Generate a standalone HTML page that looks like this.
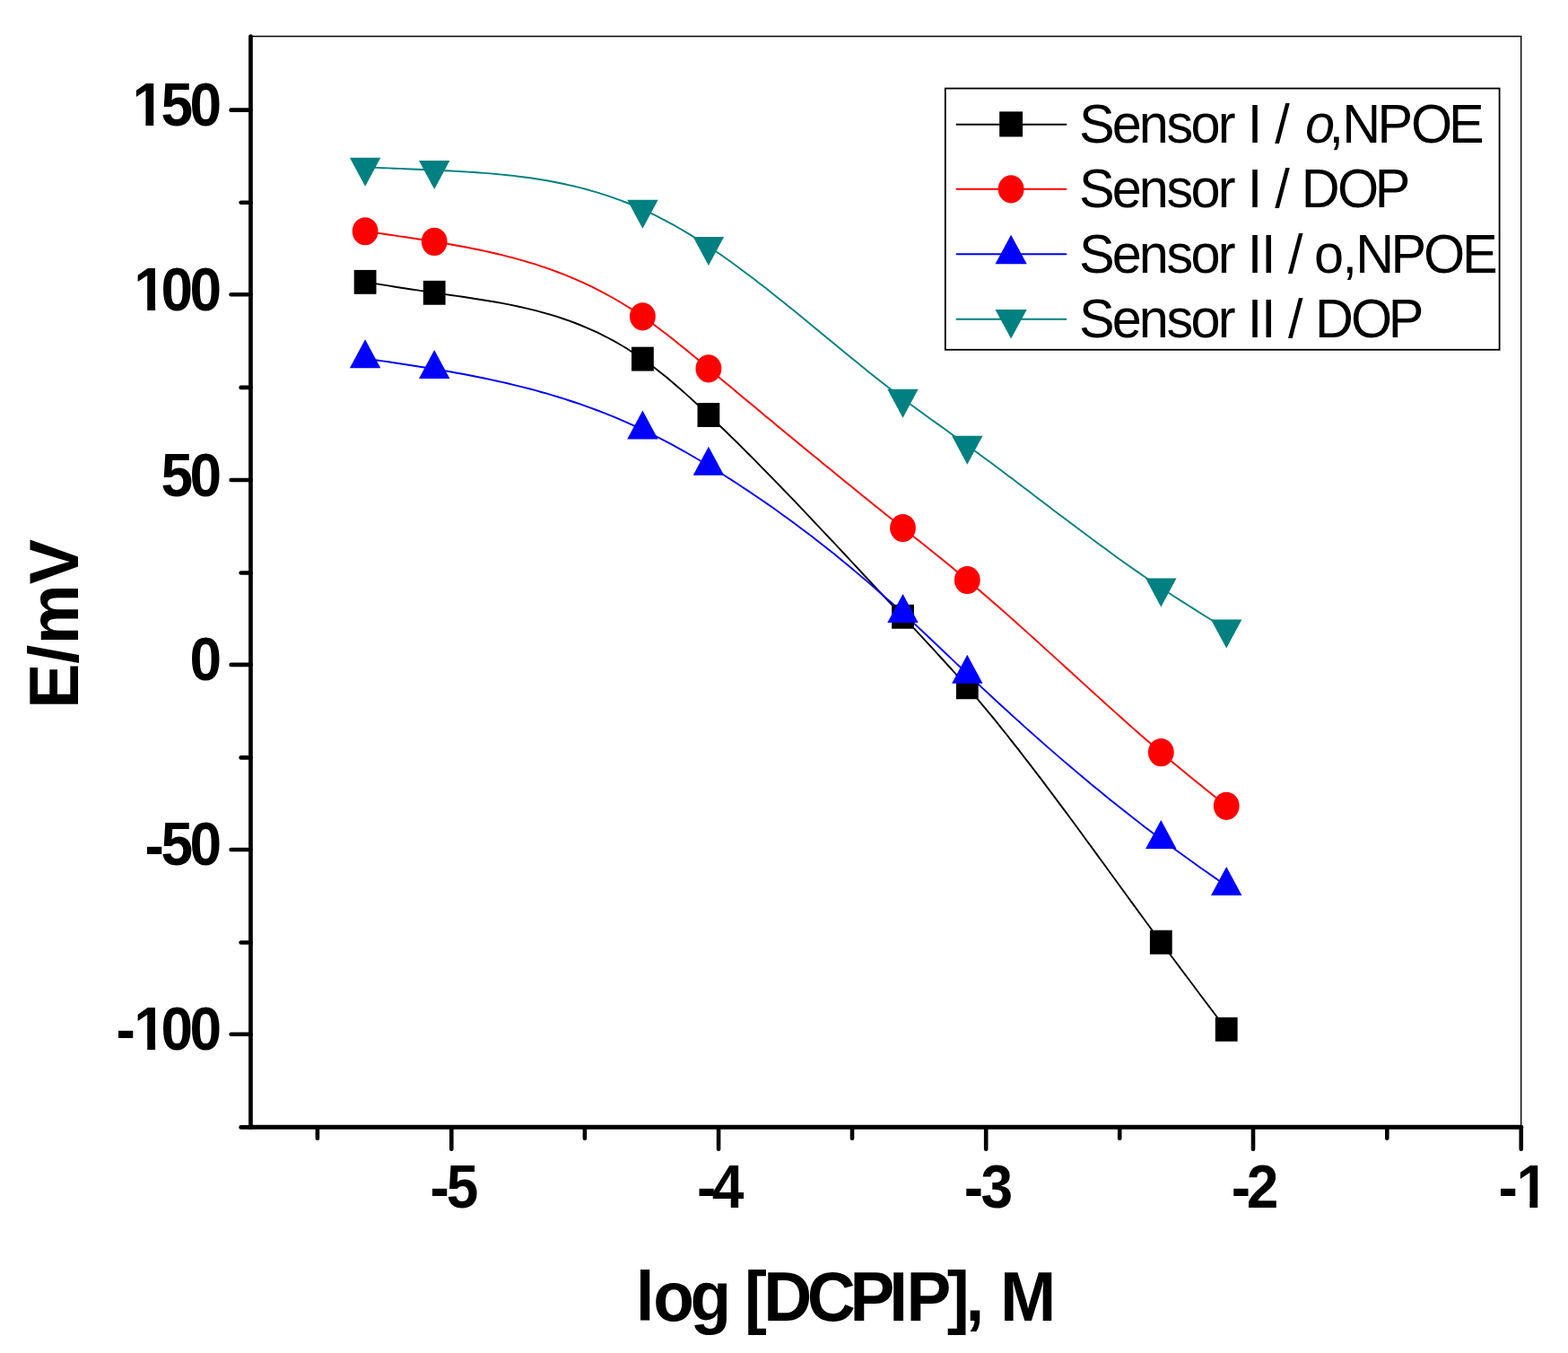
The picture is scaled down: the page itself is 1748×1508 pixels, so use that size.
<!DOCTYPE html>
<html lang="en">
<head>
<meta charset="utf-8">
<title>E/mV vs log [DCPIP], M</title>
<style>
html,body{margin:0;padding:0;background:#fff;}
body{width:1748px;height:1508px;overflow:hidden;}
svg{display:block;}
text{font-family:"Liberation Sans",Arial,Helvetica,sans-serif;fill:#000;white-space:pre;}
.b{font-weight:bold;}
.i{font-style:italic;}
</style>
</head>
<body>
<svg width="1748" height="1508" viewBox="0 0 1748 1508">
<rect x="0" y="0" width="1748" height="1508" fill="#ffffff"/>
<g fill="none" stroke="#000" stroke-width="1.4">
<line x1="279.45" y1="40.55" x2="1696.4" y2="40.55"/>
<line x1="1695.7" y1="40.55" x2="1695.7" y2="1256.3"/>
</g>
<g fill="none" stroke-linejoin="round">
<path d="M407.1,314.4 L413.5,315.4 L420.0,316.4 L426.4,317.4 L432.8,318.4 L439.2,319.5 L445.6,320.5 L452.1,321.5 L458.5,322.5 L464.9,323.4 L471.4,324.4 L477.8,325.4 L484.2,326.3 L490.5,327.2 L496.8,328.1 L503.0,329.0 L509.3,329.9 L515.6,330.8 L521.9,331.7 L528.1,332.7 L534.4,333.7 L540.7,334.7 L547.0,335.7 L553.2,336.8 L559.5,337.9 L565.8,339.1 L572.1,340.4 L578.3,341.7 L584.6,343.1 L590.9,344.6 L597.2,346.2 L603.4,347.8 L609.7,349.6 L616.0,351.4 L622.3,353.4 L628.5,355.5 L634.8,357.7 L641.1,360.0 L647.4,362.5 L653.6,365.1 L659.9,367.8 L666.2,370.7 L672.5,373.8 L678.7,377.0 L685.0,380.4 L691.3,384.0 L697.6,387.7 L703.8,391.7 L710.1,395.8 L716.4,400.1 L723.1,404.9 L729.8,410.0 L736.4,415.2 L743.1,420.6 L749.8,426.2 L756.5,432.0 L763.2,437.9 L769.9,443.9 L776.5,450.0 L783.2,456.2 L789.9,462.5 L796.3,468.6 L802.6,474.7 L809.0,480.8 L815.4,487.1 L821.8,493.3 L828.1,499.6 L834.5,506.0 L840.9,512.4 L847.2,518.8 L853.6,525.3 L860.0,531.8 L866.3,538.4 L872.7,545.0 L879.1,551.6 L885.5,558.2 L891.8,564.9 L898.2,571.6 L904.6,578.3 L910.9,585.1 L917.3,591.8 L923.7,598.6 L930.1,605.4 L936.4,612.2 L942.8,619.0 L949.2,625.8 L955.5,632.7 L961.9,639.5 L968.3,646.3 L974.6,653.2 L981.0,660.0 L987.4,666.8 L993.8,673.7 L1000.1,680.5 L1006.5,687.3 L1013.0,694.3 L1019.6,701.2 L1026.1,708.2 L1032.6,715.2 L1039.1,722.2 L1045.7,729.3 L1052.2,736.5 L1058.7,743.7 L1065.2,750.9 L1071.8,758.3 L1078.3,765.8 L1084.7,773.2 L1091.0,780.7 L1097.4,788.3 L1103.7,795.9 L1110.1,803.7 L1116.4,811.6 L1122.8,819.5 L1129.1,827.6 L1135.5,835.7 L1141.8,843.8 L1148.2,852.1 L1154.5,860.4 L1160.9,868.7 L1167.2,877.1 L1173.6,885.6 L1179.9,894.1 L1186.3,902.6 L1192.7,911.2 L1199.0,919.8 L1205.4,928.5 L1211.7,937.2 L1218.1,945.9 L1224.4,954.6 L1230.8,963.3 L1237.1,972.0 L1243.5,980.7 L1249.8,989.5 L1256.2,998.2 L1262.5,1006.9 L1268.9,1015.6 L1275.2,1024.3 L1281.6,1033.0 L1287.9,1041.6 L1294.3,1050.2 L1301.6,1060.0 L1308.9,1069.8 L1316.2,1079.6 L1323.5,1089.3 L1330.8,1099.0 L1338.0,1108.7 L1345.3,1118.4 L1352.6,1128.0 L1359.9,1137.7 L1367.2,1147.3" stroke="#000000" stroke-width="1.9"/>
<path d="M407.1,257.8 L413.5,258.7 L420.0,259.6 L426.4,260.5 L432.8,261.5 L439.2,262.4 L445.6,263.4 L452.1,264.3 L458.5,265.3 L464.9,266.3 L471.4,267.3 L477.8,268.3 L484.2,269.4 L490.5,270.4 L496.8,271.4 L503.0,272.5 L509.3,273.7 L515.6,274.8 L521.9,276.0 L528.1,277.2 L534.4,278.5 L540.7,279.9 L547.0,281.3 L553.2,282.7 L559.5,284.2 L565.8,285.8 L572.1,287.4 L578.3,289.1 L584.6,290.9 L590.9,292.8 L597.2,294.7 L603.4,296.8 L609.7,298.9 L616.0,301.2 L622.3,303.5 L628.5,305.9 L634.8,308.4 L641.1,311.1 L647.4,313.9 L653.6,316.7 L659.9,319.7 L666.2,322.9 L672.5,326.1 L678.7,329.5 L685.0,333.0 L691.3,336.7 L697.6,340.5 L703.8,344.4 L710.1,348.5 L716.4,352.8 L723.1,357.5 L729.8,362.4 L736.4,367.4 L743.1,372.5 L749.8,377.8 L756.5,383.2 L763.2,388.6 L769.9,394.1 L776.5,399.6 L783.2,405.2 L789.9,410.8 L796.3,416.1 L802.6,421.4 L809.0,426.8 L815.4,432.1 L821.8,437.4 L828.1,442.7 L834.5,448.0 L840.9,453.3 L847.2,458.6 L853.6,463.9 L860.0,469.1 L866.3,474.4 L872.7,479.7 L879.1,484.9 L885.5,490.2 L891.8,495.4 L898.2,500.7 L904.6,505.9 L910.9,511.1 L917.3,516.4 L923.7,521.6 L930.1,526.8 L936.4,532.0 L942.8,537.2 L949.2,542.3 L955.5,547.5 L961.9,552.7 L968.3,557.8 L974.6,562.9 L981.0,568.1 L987.4,573.2 L993.8,578.3 L1000.1,583.4 L1006.5,588.5 L1013.0,593.7 L1019.6,598.9 L1026.1,604.1 L1032.6,609.3 L1039.1,614.5 L1045.7,619.8 L1052.2,625.0 L1058.7,630.3 L1065.2,635.7 L1071.8,641.1 L1078.3,646.5 L1084.7,651.8 L1091.0,657.2 L1097.4,662.7 L1103.7,668.2 L1110.1,673.7 L1116.4,679.3 L1122.8,684.9 L1129.1,690.5 L1135.5,696.2 L1141.8,701.9 L1148.2,707.6 L1154.5,713.3 L1160.9,719.1 L1167.2,724.9 L1173.6,730.6 L1179.9,736.4 L1186.3,742.2 L1192.7,748.0 L1199.0,753.8 L1205.4,759.6 L1211.7,765.4 L1218.1,771.2 L1224.4,776.9 L1230.8,782.7 L1237.1,788.4 L1243.5,794.1 L1249.8,799.8 L1256.2,805.5 L1262.5,811.1 L1268.9,816.7 L1275.2,822.2 L1281.6,827.7 L1287.9,833.2 L1294.3,838.6 L1301.6,844.8 L1308.9,850.9 L1316.2,856.9 L1323.5,862.9 L1330.8,868.9 L1338.0,874.8 L1345.3,880.7 L1352.6,886.6 L1359.9,892.4 L1367.2,898.3" stroke="#ff0000" stroke-width="1.9"/>
<path d="M407.1,399.6 L413.5,400.5 L420.0,401.5 L426.4,402.4 L432.8,403.3 L439.2,404.3 L445.6,405.2 L452.1,406.2 L458.5,407.2 L464.9,408.2 L471.4,409.2 L477.8,410.2 L484.2,411.3 L490.5,412.4 L496.8,413.4 L503.0,414.5 L509.3,415.7 L515.6,416.8 L521.9,418.0 L528.1,419.2 L534.4,420.5 L540.7,421.8 L547.0,423.1 L553.2,424.5 L559.5,425.9 L565.8,427.3 L572.1,428.8 L578.3,430.3 L584.6,431.9 L590.9,433.5 L597.2,435.2 L603.4,437.0 L609.7,438.7 L616.0,440.6 L622.3,442.5 L628.5,444.4 L634.8,446.5 L641.1,448.5 L647.4,450.7 L653.6,452.9 L659.9,455.2 L666.2,457.5 L672.5,459.9 L678.7,462.4 L685.0,464.9 L691.3,467.6 L697.6,470.3 L703.8,473.1 L710.1,475.9 L716.4,478.9 L723.1,482.1 L729.8,485.5 L736.4,488.9 L743.1,492.4 L749.8,495.9 L756.5,499.6 L763.2,503.3 L769.9,507.2 L776.5,511.0 L783.2,515.0 L789.9,519.0 L796.3,522.9 L802.6,526.8 L809.0,530.8 L815.4,534.9 L821.8,539.0 L828.1,543.2 L834.5,547.4 L840.9,551.7 L847.2,556.0 L853.6,560.4 L860.0,564.8 L866.3,569.3 L872.7,573.9 L879.1,578.5 L885.5,583.2 L891.8,588.0 L898.2,592.8 L904.6,597.6 L910.9,602.5 L917.3,607.5 L923.7,612.5 L930.1,617.6 L936.4,622.8 L942.8,628.0 L949.2,633.2 L955.5,638.6 L961.9,643.9 L968.3,649.4 L974.6,654.9 L981.0,660.5 L987.4,666.1 L993.8,671.8 L1000.1,677.5 L1006.5,683.3 L1013.0,689.3 L1019.6,695.4 L1026.1,701.5 L1032.6,707.6 L1039.1,713.8 L1045.7,720.0 L1052.2,726.2 L1058.7,732.4 L1065.2,738.6 L1071.8,744.8 L1078.3,751.0 L1084.7,757.0 L1091.0,762.9 L1097.4,768.9 L1103.7,774.8 L1110.1,780.7 L1116.4,786.5 L1122.8,792.3 L1129.1,798.1 L1135.5,803.8 L1141.8,809.6 L1148.2,815.2 L1154.5,820.9 L1160.9,826.5 L1167.2,832.1 L1173.6,837.6 L1179.9,843.1 L1186.3,848.6 L1192.7,854.0 L1199.0,859.4 L1205.4,864.8 L1211.7,870.1 L1218.1,875.4 L1224.4,880.6 L1230.8,885.8 L1237.1,891.0 L1243.5,896.1 L1249.8,901.1 L1256.2,906.1 L1262.5,911.1 L1268.9,916.0 L1275.2,920.9 L1281.6,925.8 L1287.9,930.6 L1294.3,935.3 L1301.6,940.7 L1308.9,946.0 L1316.2,951.3 L1323.5,956.5 L1330.8,961.7 L1338.0,966.9 L1345.3,972.0 L1352.6,977.1 L1359.9,982.2 L1367.2,987.3" stroke="#0000ff" stroke-width="1.9"/>
<path d="M407.1,186.4 L413.5,186.7 L420.0,186.9 L426.4,187.2 L432.8,187.4 L439.2,187.7 L445.6,187.9 L452.1,188.2 L458.5,188.5 L464.9,188.7 L471.4,189.0 L477.8,189.3 L484.2,189.6 L490.5,189.9 L496.8,190.2 L503.0,190.5 L509.3,190.9 L515.6,191.2 L521.9,191.6 L528.1,192.0 L534.4,192.5 L540.7,192.9 L547.0,193.4 L553.2,194.0 L559.5,194.6 L565.8,195.2 L572.1,195.9 L578.3,196.7 L584.6,197.5 L590.9,198.3 L597.2,199.3 L603.4,200.3 L609.7,201.3 L616.0,202.5 L622.3,203.7 L628.5,205.0 L634.8,206.4 L641.1,207.8 L647.4,209.4 L653.6,211.0 L659.9,212.8 L666.2,214.6 L672.5,216.6 L678.7,218.6 L685.0,220.8 L691.3,223.1 L697.6,225.5 L703.8,228.0 L710.1,230.6 L716.4,233.4 L723.1,236.5 L729.8,239.7 L736.4,243.1 L743.1,246.6 L749.8,250.2 L756.5,254.0 L763.2,257.9 L769.9,261.9 L776.5,266.1 L783.2,270.3 L789.9,274.7 L796.3,279.0 L802.6,283.3 L809.0,287.8 L815.4,292.3 L821.8,297.0 L828.1,301.7 L834.5,306.4 L840.9,311.3 L847.2,316.2 L853.6,321.1 L860.0,326.2 L866.3,331.2 L872.7,336.3 L879.1,341.4 L885.5,346.6 L891.8,351.8 L898.2,357.0 L904.6,362.2 L910.9,367.5 L917.3,372.7 L923.7,378.0 L930.1,383.3 L936.4,388.5 L942.8,393.7 L949.2,398.9 L955.5,404.1 L961.9,409.3 L968.3,414.4 L974.6,419.5 L981.0,424.6 L987.4,429.6 L993.8,434.6 L1000.1,439.5 L1006.5,444.3 L1013.0,449.2 L1019.6,454.0 L1026.1,458.8 L1032.6,463.6 L1039.1,468.3 L1045.7,472.9 L1052.2,477.6 L1058.7,482.3 L1065.2,487.0 L1071.8,491.7 L1078.3,496.4 L1084.7,501.0 L1091.0,505.7 L1097.4,510.4 L1103.7,515.1 L1110.1,519.8 L1116.4,524.6 L1122.8,529.4 L1129.1,534.1 L1135.5,538.9 L1141.8,543.8 L1148.2,548.6 L1154.5,553.4 L1160.9,558.2 L1167.2,563.0 L1173.6,567.9 L1179.9,572.7 L1186.3,577.5 L1192.7,582.3 L1199.0,587.0 L1205.4,591.8 L1211.7,596.6 L1218.1,601.3 L1224.4,606.0 L1230.8,610.6 L1237.1,615.3 L1243.5,619.9 L1249.8,624.4 L1256.2,629.0 L1262.5,633.5 L1268.9,637.9 L1275.2,642.3 L1281.6,646.7 L1287.9,651.0 L1294.3,655.2 L1301.6,660.0 L1308.9,664.7 L1316.2,669.4 L1323.5,674.0 L1330.8,678.6 L1338.0,683.2 L1345.3,687.7 L1352.6,692.2 L1359.9,696.6 L1367.2,701.1" stroke="#008080" stroke-width="1.9"/>
</g>
<g>
<rect x="394.70" y="300.90" width="24.80" height="26.90" fill="#000000"/>
<rect x="471.80" y="312.85" width="24.80" height="26.90" fill="#000000"/>
<rect x="704.00" y="386.65" width="24.80" height="26.90" fill="#000000"/>
<rect x="777.50" y="449.05" width="24.80" height="26.90" fill="#000000"/>
<rect x="994.10" y="673.85" width="24.80" height="26.90" fill="#000000"/>
<rect x="1065.90" y="752.35" width="24.80" height="26.90" fill="#000000"/>
<rect x="1281.90" y="1036.75" width="24.80" height="26.90" fill="#000000"/>
<rect x="1354.80" y="1133.85" width="24.80" height="26.90" fill="#000000"/>
</g>
<g>
<ellipse cx="407.10" cy="257.75" rx="14.4" ry="15.6" fill="#ff0000"/>
<ellipse cx="484.20" cy="269.35" rx="14.4" ry="15.6" fill="#ff0000"/>
<ellipse cx="716.40" cy="352.80" rx="14.4" ry="15.6" fill="#ff0000"/>
<ellipse cx="789.90" cy="410.80" rx="14.4" ry="15.6" fill="#ff0000"/>
<ellipse cx="1006.50" cy="588.50" rx="14.4" ry="15.6" fill="#ff0000"/>
<ellipse cx="1078.30" cy="646.50" rx="14.4" ry="15.6" fill="#ff0000"/>
<ellipse cx="1294.30" cy="838.60" rx="14.4" ry="15.6" fill="#ff0000"/>
<ellipse cx="1367.20" cy="898.30" rx="14.4" ry="15.6" fill="#ff0000"/>
</g>
<g>
<polygon points="389.90,410.27 424.30,410.27 407.10,378.27" fill="#0000ff"/>
<polygon points="467.00,421.97 501.40,421.97 484.20,389.97" fill="#0000ff"/>
<polygon points="699.20,489.57 733.60,489.57 716.40,457.57" fill="#0000ff"/>
<polygon points="772.70,529.67 807.10,529.67 789.90,497.67" fill="#0000ff"/>
<polygon points="989.30,693.97 1023.70,693.97 1006.50,661.97" fill="#0000ff"/>
<polygon points="1061.10,761.67 1095.50,761.67 1078.30,729.67" fill="#0000ff"/>
<polygon points="1277.10,945.97 1311.50,945.97 1294.30,913.97" fill="#0000ff"/>
<polygon points="1350.00,997.97 1384.40,997.97 1367.20,965.97" fill="#0000ff"/>
</g>
<g>
<polygon points="389.90,175.73 424.30,175.73 407.10,207.73" fill="#008080"/>
<polygon points="467.00,178.93 501.40,178.93 484.20,210.93" fill="#008080"/>
<polygon points="699.20,222.73 733.60,222.73 716.40,254.73" fill="#008080"/>
<polygon points="772.70,264.03 807.10,264.03 789.90,296.03" fill="#008080"/>
<polygon points="989.30,433.63 1023.70,433.63 1006.50,465.63" fill="#008080"/>
<polygon points="1061.10,485.73 1095.50,485.73 1078.30,517.73" fill="#008080"/>
<polygon points="1277.10,644.53 1311.50,644.53 1294.30,676.53" fill="#008080"/>
<polygon points="1350.00,690.43 1384.40,690.43 1367.20,722.43" fill="#008080"/>
</g>
<g fill="none" stroke="#000" stroke-linecap="round">
<line x1="279.45" y1="40.55" x2="279.45" y2="1256.3" stroke-width="4.7"/>
<line x1="279.45" y1="1256.3" x2="1695.7" y2="1256.3" stroke-width="5.0"/>
<line x1="257.6" y1="122.65" x2="279.45" y2="122.65" stroke-width="4.6"/>
<line x1="257.6" y1="328.30" x2="279.45" y2="328.30" stroke-width="4.6"/>
<line x1="257.6" y1="535.00" x2="279.45" y2="535.00" stroke-width="4.6"/>
<line x1="257.6" y1="740.90" x2="279.45" y2="740.90" stroke-width="4.6"/>
<line x1="257.6" y1="946.95" x2="279.45" y2="946.95" stroke-width="4.6"/>
<line x1="257.6" y1="1152.70" x2="279.45" y2="1152.70" stroke-width="4.6"/>
<line x1="268.6" y1="225.80" x2="279.45" y2="225.80" stroke-width="4.6"/>
<line x1="268.6" y1="431.90" x2="279.45" y2="431.90" stroke-width="4.6"/>
<line x1="268.6" y1="638.50" x2="279.45" y2="638.50" stroke-width="4.6"/>
<line x1="268.6" y1="844.40" x2="279.45" y2="844.40" stroke-width="4.6"/>
<line x1="268.6" y1="1050.50" x2="279.45" y2="1050.50" stroke-width="4.6"/>
<line x1="268.6" y1="1256.40" x2="279.45" y2="1256.40" stroke-width="4.6"/>
<line x1="503.30" y1="1256.3" x2="503.30" y2="1280.8" stroke-width="4.6"/>
<line x1="801.05" y1="1256.3" x2="801.05" y2="1280.8" stroke-width="4.6"/>
<line x1="1099.20" y1="1256.3" x2="1099.20" y2="1280.8" stroke-width="4.6"/>
<line x1="1397.00" y1="1256.3" x2="1397.00" y2="1280.8" stroke-width="4.6"/>
<line x1="1695.75" y1="1256.3" x2="1695.75" y2="1280.8" stroke-width="4.6"/>
<line x1="353.90" y1="1256.3" x2="353.90" y2="1268.8" stroke-width="4.6"/>
<line x1="651.90" y1="1256.3" x2="651.90" y2="1268.8" stroke-width="4.6"/>
<line x1="950.00" y1="1256.3" x2="950.00" y2="1268.8" stroke-width="4.6"/>
<line x1="1248.20" y1="1256.3" x2="1248.20" y2="1268.8" stroke-width="4.6"/>
<line x1="1546.30" y1="1256.3" x2="1546.30" y2="1268.8" stroke-width="4.6"/>
</g>
<g class="b">
<clipPath id="cy350" clipPathUnits="userSpaceOnUse"><path clip-rule="evenodd" d="M0,0H1748V1508H0Z M150.03,132.51H162.41V141.30H150.03Z M171.24,132.51H181.90V141.30H171.24Z"/></clipPath>
<g clip-path="url(#cy350)"><text font-size="64" transform="translate(0,139.80) scale(1.0,1.056)" x="147.50 179.40 211.40" y="0">150</text></g>
<clipPath id="cy300" clipPathUnits="userSpaceOnUse"><path clip-rule="evenodd" d="M0,0H1748V1508H0Z M151.88,338.41H164.26V347.20H151.88Z M173.10,338.41H184.64V347.20H173.10Z"/></clipPath>
<g clip-path="url(#cy300)"><text font-size="64" transform="translate(0,345.70) scale(1.0,1.056)" x="149.35 179.40 211.40" y="0">100</text></g>
<text font-size="64" transform="translate(0,552.60) scale(1.0,1.056)" x="179.40 211.40" y="0">50</text>
<text font-size="64" transform="translate(0,758.40) scale(1.0,1.056)" x="211.40" y="0">0</text>
<text font-size="64" transform="translate(0,964.30) scale(1.0,1.056)" x="161.50 179.40 211.40" y="1.2 0 0">-50</text>
<clipPath id="cy100" clipPathUnits="userSpaceOnUse"><path clip-rule="evenodd" d="M0,0H1748V1508H0Z M151.88,1162.61H164.26V1171.40H151.88Z M173.10,1162.61H184.64V1171.40H173.10Z"/></clipPath>
<g clip-path="url(#cy100)"><text font-size="64" transform="translate(0,1169.90) scale(1.0,1.056)" x="129.50 149.35 179.40 211.40" y="1.2 0 0 0">-100</text></g>
<text font-size="64" transform="translate(0,1345.80) scale(1.0,1.056)" x="479.62 497.66" y="1.2 0">-5</text>
<text font-size="64" transform="translate(0,1345.80) scale(1.0,1.056)" x="776.93 793.87" y="1.2 0">-4</text>
<text font-size="64" transform="translate(0,1345.80) scale(1.0,1.056)" x="1074.82 1093.58" y="1.2 0">-3</text>
<text font-size="64" transform="translate(0,1345.80) scale(1.0,1.056)" x="1372.82 1389.85" y="1.2 0">-2</text>
<clipPath id="cx1" clipPathUnits="userSpaceOnUse"><path clip-rule="evenodd" d="M0,0H1748V1508H0Z M1692.96,1338.51H1705.34V1347.30H1692.96Z M1714.17,1338.51H1725.72V1347.30H1714.17Z"/></clipPath>
<g clip-path="url(#cx1)"><text font-size="64" transform="translate(0,1345.80) scale(1.0,1.056)" x="1670.53 1690.43" y="1.2 0">-1</text></g>
</g>
<text class="b" font-size="74.7" transform="translate(0,1471.80) scale(1.0,1.03)" x="708.80 728.26 769.45 810.51 829.96 851.32 899.74 947.44 991.20 1010.50 1055.69 1076.53 1095.21 1114.90" y="0">log [DCPIP], M</text>
<text class="b" font-size="75.35" transform="translate(86.90,0) rotate(-90) scale(1.0,1.03)" x="-789.64 -739.74 -718.17 -651.32" y="0">E/mV</text>
<rect x="1053.8" y="98.55" width="617.80" height="291.25" fill="#fff" stroke="#000" stroke-width="1.8"/>
<line x1="1066.6" y1="138.8" x2="1188.4" y2="138.8" stroke="#000000" stroke-width="2.1" stroke-linecap="round"/>
<rect x="1114.15" y="124.35" width="25.90" height="28.10" fill="#000000"/>
<text font-size="59.4" transform="translate(0,159.00) scale(1.0,1.02)" x="1203.00 1239.88 1269.76 1300.45 1327.51 1357.86 1375.66 1390.82 1405.67 1421.30 1436.15 1454.96 1481.46 1496.23 1535.53 1573.09 1614.93" y="0">Sensor I / <tspan class="i">o</tspan>,NPOE</text>
<line x1="1066.6" y1="210.8" x2="1188.4" y2="210.8" stroke="#ff0000" stroke-width="2.1" stroke-linecap="round"/>
<ellipse cx="1127.10" cy="210.80" rx="14.4" ry="15.65" fill="#ff0000"/>
<text font-size="59.4" transform="translate(0,231.00) scale(1.0,1.02)" x="1203.00 1239.88 1269.76 1300.45 1327.51 1357.86 1375.66 1390.82 1405.67 1421.30 1436.15 1450.63 1491.09 1532.73" y="0">Sensor I / DOP</text>
<line x1="1066.6" y1="283.3" x2="1188.4" y2="283.3" stroke="#0000ff" stroke-width="2.1" stroke-linecap="round"/>
<polygon points="1109.50,294.13 1144.70,294.13 1127.10,261.63" fill="#0000ff"/>
<text font-size="59.4" transform="translate(0,304.00) scale(1.0,1.02)" x="1203.00 1239.88 1269.76 1300.45 1327.51 1357.86 1375.66 1390.82 1406.02 1420.87 1436.00 1450.85 1465.11 1496.56 1511.23 1550.53 1586.99 1630.08" y="0">Sensor II / o,NPOE</text>
<line x1="1066.6" y1="355.8" x2="1188.4" y2="355.8" stroke="#008080" stroke-width="2.1" stroke-linecap="round"/>
<polygon points="1109.50,344.97 1144.70,344.97 1127.10,377.47" fill="#008080"/>
<text font-size="59.4" transform="translate(0,376.10) scale(1.0,1.02)" x="1203.00 1239.88 1269.76 1300.45 1327.51 1357.86 1375.66 1390.82 1406.02 1420.87 1436.00 1450.85 1465.93 1506.09 1547.83" y="0">Sensor II / DOP</text>
</svg>
</body>
</html>
